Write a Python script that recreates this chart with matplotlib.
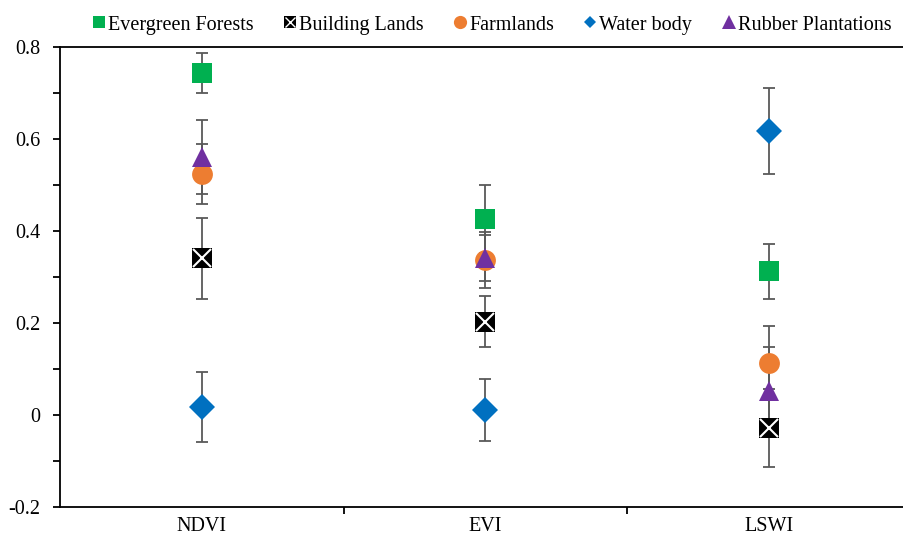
import matplotlib.pyplot as plt
from matplotlib.legend_handler import HandlerTuple
from matplotlib.ticker import MultipleLocator, FixedLocator, FuncFormatter

plt.rcParams['font.family'] = ['Liberation Serif', 'DejaVu Serif']

# data
indices = ['NDVI', 'EVI', 'LSWI']
evergreen = [0.743, 0.426, 0.312]
evergreen_err = [0.043, 0.074, 0.060]
building = [0.341, 0.203, -0.028]
building_err = [0.088, 0.055, 0.085]
farmland = [0.524, 0.337, 0.114]
farmland_err = [0.065, 0.060, 0.080]
water = [0.017, 0.011, 0.617]
water_err = [0.076, 0.068, 0.094]
rubber = [0.561, 0.342, 0.053]
rubber_err = [0.080, 0.050, 0.095]

x = list(range(len(indices)))
ecol = '#595959'

fig = plt.figure(figsize=(9.04, 5.38), dpi=100)
ax = fig.add_axes([60 / 904, 31 / 538, 850.5 / 904, 460 / 538])

def draw(vals, errs, marker, color, ms, z):
    ax.errorbar(x, vals, yerr=errs, fmt='none', ecolor=ecol, elinewidth=1.3,
                capsize=4, capthick=1.3, zorder=1)
    return ax.plot(x, vals, linestyle='none', marker=marker, color=color,
                   markersize=ms, markeredgewidth=0, zorder=z)[0]

draw(evergreen, evergreen_err, 's', '#00B050', 14.5, 3)
draw(building, building_err, 's', 'black', 14.5, 3)
ax.plot(x, building, linestyle='none', marker='x', color='white',
        markersize=13, markeredgewidth=1.5, zorder=4)
draw(farmland, farmland_err, 'o', '#ED7D31', 15, 3)
draw(water, water_err, 'D', '#0070C0', 13.5, 3)
draw(rubber, rubber_err, '^', '#7030A0', 15, 5)

ax.set_xlim(-0.5, 2.5)
ax.set_ylim(-0.2, 0.8)
ax.spines['right'].set_visible(False)
for s in ['left', 'bottom', 'top']:
    ax.spines[s].set_linewidth(1.3)

ax.set_xticks(x)
ax.set_xticklabels(indices)
ax.xaxis.set_minor_locator(FixedLocator([0.5, 1.5]))
ax.tick_params(axis='x', which='major', length=0, pad=7, labelsize=14.5)
ax.tick_params(axis='x', which='minor', length=5, width=1.3, direction='out')

ax.yaxis.set_major_locator(MultipleLocator(0.2))
ax.yaxis.set_minor_locator(MultipleLocator(0.1))
ax.yaxis.set_major_formatter(FuncFormatter(lambda v, p: '0' if abs(v) < 1e-9 else f'{v:.1f}'))
ax.tick_params(axis='y', which='both', length=5, width=1.3, direction='out', labelsize=14.5, pad=9)

leg_build = ax.plot([], [], linestyle='none', marker='s', color='black', markersize=8.5, markeredgewidth=0)[0]
leg_bx = ax.plot([], [], linestyle='none', marker='x', color='white', markersize=7.5, markeredgewidth=1)[0]
handles = [
    ax.plot([], [], linestyle='none', marker='s', color='#00B050', markersize=8.5, markeredgewidth=0)[0],
    (leg_build, leg_bx),
    ax.plot([], [], linestyle='none', marker='o', color='#ED7D31', markersize=9.5, markeredgewidth=0)[0],
    ax.plot([], [], linestyle='none', marker='D', color='#0070C0', markersize=6.5, markeredgewidth=0)[0],
    ax.plot([], [], linestyle='none', marker='^', color='#7030A0', markersize=9.5, markeredgewidth=0)[0],
]
labels = ['Evergreen Forests', 'Building Lands', 'Farmlands', 'Water body', 'Rubber Plantations']
fig.legend(handles, labels, loc='upper center', bbox_to_anchor=(0.544, 1.005), ncol=5,
           frameon=False, fontsize=14.5, handlelength=0.7, handletextpad=0.1,
           columnspacing=1.45, handler_map={tuple: HandlerTuple(ndivide=1, pad=0)})

fig.savefig('out.png', dpi=100)
